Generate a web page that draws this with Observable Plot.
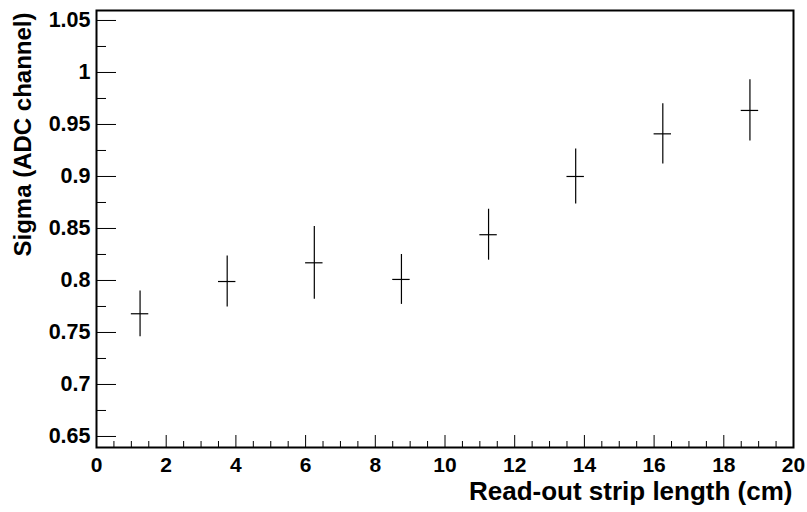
<!DOCTYPE html>
<html>
<head>
<meta charset="utf-8">
<script src="https://cdn.jsdelivr.net/npm/d3@7"></script>
<script src="https://cdn.jsdelivr.net/npm/@observablehq/plot@0.6"></script>
<style>
  html, body { margin: 0; padding: 0; background: #fff; }
  #chart svg { display: block; }
</style>
</head>
<body>
<div id="chart"></div>
<script>
// Measured resolution versus read-out strip length
const stripLength = [1.25, 3.75, 6.25, 8.75, 11.25, 13.75, 16.25, 18.75];
const lengthErr   = [0.25, 0.25, 0.25, 0.25, 0.25, 0.25, 0.25, 0.25];
const sigma       = [0.768, 0.799, 0.817, 0.801, 0.844, 0.900, 0.941, 0.9635];
const sigmaErr    = [0.022, 0.0245, 0.035, 0.024, 0.0245, 0.0265, 0.029, 0.0295];

// Axis ticks and labels
const xTicks = [0, 2, 4, 6, 8, 10, 12, 14, 16, 18, 20];
const xTickLabels = ["0", "2", "4", "6", "8", "10", "12", "14", "16", "18", "20"];
const yTicks = [0.65, 0.7, 0.75, 0.8, 0.85, 0.9, 0.95, 1, 1.05];
const yTickLabels = ["0.65", "0.7", "0.75", "0.8", "0.85", "0.9", "0.95", "1", "1.05"];
const xDomain = [0, 20];
const yDomain = [0.6394, 1.0596];

const xTitle = "Read-out strip length (cm)";
const yTitle = "Sigma (ADC channel)";

const W = 807, H = 512;
const margin = {top: 10, right: 14, bottom: 65, left: 96};
const innerW = W - margin.left - margin.right;
const innerH = H - margin.top - margin.bottom;
const font = "'Liberation Sans', Arial, Helvetica, sans-serif";

// minor ticks: x every 0.5, y every 0.025, skipping the major positions
const xMinor = d3.range(xDomain[0], xDomain[1] + 1e-9, 0.5)
  .filter(v => !xTicks.some(t => Math.abs(t - v) < 1e-9));
const yMinor = d3.range(0.625, 1.0751, 0.025)
  .filter(v => v >= yDomain[0] && v <= yDomain[1])
  .filter(v => !yTicks.some(t => Math.abs(t - v) < 1e-9));

const points = stripLength.map((x, i) => ({
  x, ex: lengthErr[i], y: sigma[i], ey: sigmaErr[i]
}));

const chart = Plot.plot({
  width: W,
  height: H,
  marginTop: margin.top,
  marginRight: margin.right,
  marginBottom: margin.bottom,
  marginLeft: margin.left,
  style: {fontFamily: font, fontWeight: "bold", background: "#fff", color: "#000"},
  x: {domain: xDomain},
  y: {domain: yDomain},
  marks: [
    // inward ticks along the bottom and left edges
    Plot.tickX(xTicks, {x: d => d, insetTop: innerH - 12, stroke: "#000", strokeWidth: 1}),
    Plot.tickX(xMinor, {x: d => d, insetTop: innerH - 6, stroke: "#000", strokeWidth: 1}),
    Plot.tickY(yTicks, {y: d => d, insetRight: innerW - 20, stroke: "#000", strokeWidth: 1}),
    Plot.tickY(yMinor, {y: d => d, insetRight: innerW - 10, stroke: "#000", strokeWidth: 1}),

    Plot.axisX({
      ticks: xTicks,
      tickFormat: d => xTickLabels[xTicks.indexOf(d)],
      tickSize: 0,
      tickPadding: 10,
      fontSize: 21,
      label: null
    }),
    Plot.axisY({
      ticks: yTicks,
      tickFormat: d => yTickLabels[yTicks.indexOf(d)],
      tickSize: 0,
      tickPadding: 6,
      fontSize: 21.5,
      label: null
    }),

    // error bars
    Plot.ruleX(points, {x: "x", y1: d => d.y - d.ey, y2: d => d.y + d.ey, stroke: "#000", strokeWidth: 1.2}),
    Plot.ruleY(points, {y: "y", x1: d => d.x - d.ex, x2: d => d.x + d.ex, stroke: "#000", strokeWidth: 1.2}),

    Plot.frame({stroke: "#000", strokeWidth: 2}),

    // axis titles
    Plot.text([xTitle], {
      text: d => d, frameAnchor: "bottom-right", textAnchor: "end",
      fontSize: 26, fontWeight: "bold", dx: -1, dy: 52, fill: "#000"
    }),
    Plot.text([yTitle], {
      text: d => d, frameAnchor: "top-left", textAnchor: "end", rotate: -90,
      fontSize: 24, fontWeight: "bold", dx: -83, dy: 2, fill: "#000"
    })
  ]
});

document.getElementById("chart").appendChild(chart);
</script>
</body>
</html>
